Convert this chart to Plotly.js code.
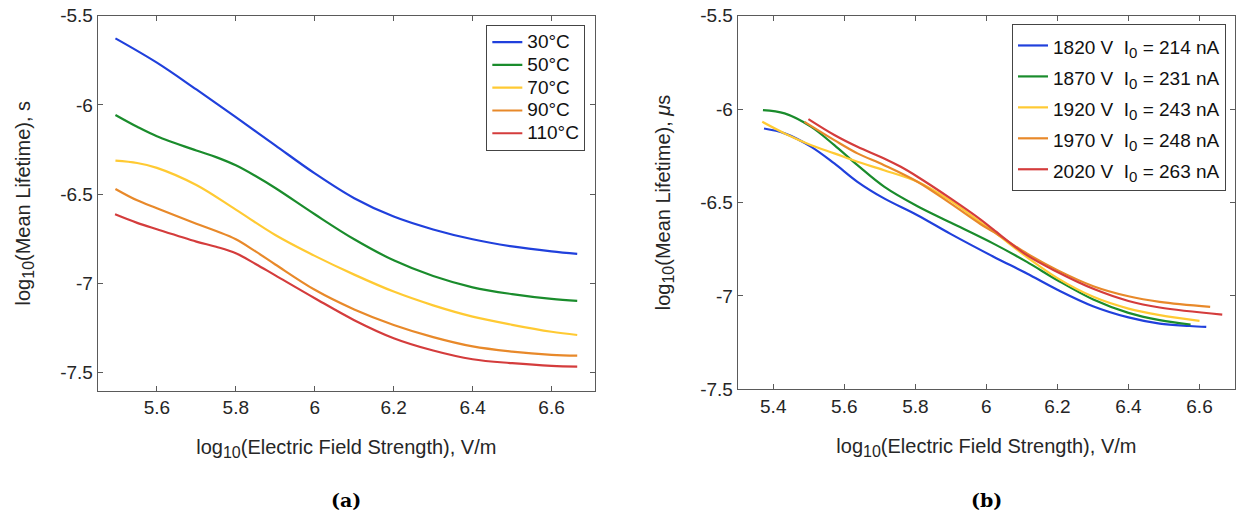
<!DOCTYPE html>
<html>
<head>
<meta charset="utf-8">
<script src="https://cdn.plot.ly/plotly-3.0.1.min.js"></script>
<style>html,body{margin:0;padding:0;background:#fff}#chart{width:1238px;height:517px}</style>
</head>
<body>
<div id="chart"></div>
<script>
// ---------- Panel (a): temperature series ----------
const tempNames = ['30°C', '50°C', '70°C', '90°C', '110°C'];
const aX30  = [5.495, 5.6, 5.7, 5.8, 5.9, 6.0, 6.1, 6.2, 6.3, 6.4, 6.5, 6.6, 6.665];
const aY30  = [-5.627, -5.763, -5.913, -6.068, -6.226, -6.383, -6.522, -6.625, -6.697, -6.752, -6.792, -6.820, -6.834];
const aX50  = [5.495, 5.55, 5.6, 5.7, 5.75, 5.8, 5.85, 5.9, 6.0, 6.1, 6.2, 6.3, 6.4, 6.5, 6.6, 6.665];
const aY50  = [-6.056, -6.122, -6.175, -6.255, -6.292, -6.338, -6.398, -6.465, -6.612, -6.752, -6.870, -6.958, -7.021, -7.059, -7.086, -7.097];
const aX70  = [5.495, 5.55, 5.6, 5.7, 5.8, 5.9, 6.0, 6.1, 6.2, 6.3, 6.4, 6.5, 6.6, 6.665];
const aY70  = [-6.312, -6.325, -6.352, -6.448, -6.586, -6.728, -6.845, -6.950, -7.045, -7.122, -7.185, -7.231, -7.270, -7.288];
const aX90  = [5.495, 5.55, 5.6, 5.7, 5.75, 5.8, 5.85, 5.9, 6.0, 6.1, 6.2, 6.3, 6.4, 6.5, 6.6, 6.665];
const aY90  = [-6.470, -6.534, -6.578, -6.665, -6.706, -6.752, -6.820, -6.893, -7.035, -7.145, -7.232, -7.300, -7.352, -7.381, -7.399, -7.404];
const aX110 = [5.494, 5.55, 5.6, 5.7, 5.75, 5.8, 5.85, 5.9, 6.0, 6.1, 6.2, 6.3, 6.4, 6.5, 6.6, 6.665];
const aY110 = [-6.612, -6.660, -6.696, -6.765, -6.794, -6.830, -6.890, -6.954, -7.082, -7.205, -7.306, -7.375, -7.424, -7.446, -7.461, -7.465];

// ---------- Panel (b): voltage series ----------
const SUB = (s) => '<sub><span style="font-size:15px">' + s + '</span></sub>';
const voltNames = ['1820 V  I' + SUB('0') + ' = 214 nA', '1870 V  I' + SUB('0') + ' = 231 nA', '1920 V  I' + SUB('0') + ' = 243 nA', '1970 V  I' + SUB('0') + ' = 248 nA', '2020 V  I' + SUB('0') + ' = 263 nA'];
const bX1820 = [5.374, 5.432, 5.507, 5.572, 5.637, 5.712, 5.806, 5.899, 6.020, 6.114, 6.2, 6.3, 6.4, 6.488, 6.572, 6.619];
const bY1820 = [-6.104, -6.130, -6.202, -6.291, -6.389, -6.478, -6.568, -6.668, -6.790, -6.880, -6.967, -7.055, -7.115, -7.148, -7.161, -7.166];
const bX1870 = [5.371, 5.432, 5.507, 5.572, 5.637, 5.712, 5.806, 5.899, 6.020, 6.114, 6.2, 6.301, 6.4, 6.488, 6.575];
const bY1870 = [-6.005, -6.023, -6.095, -6.193, -6.300, -6.415, -6.520, -6.607, -6.720, -6.818, -6.916, -7.019, -7.091, -7.130, -7.153];
const bX1920 = [5.369, 5.432, 5.507, 5.572, 5.637, 5.712, 5.806, 5.899, 5.983, 6.020, 6.114, 6.2, 6.301, 6.4, 6.488, 6.6];
const bY1920 = [-6.068, -6.130, -6.193, -6.237, -6.282, -6.327, -6.389, -6.490, -6.605, -6.655, -6.792, -6.905, -7.005, -7.068, -7.103, -7.134];
const bX1970 = [5.488, 5.572, 5.637, 5.712, 5.806, 5.899, 5.983, 6.020, 6.114, 6.2, 6.301, 6.4, 6.488, 6.630];
const bY1970 = [-6.068, -6.166, -6.237, -6.300, -6.389, -6.505, -6.615, -6.657, -6.773, -6.862, -6.948, -7.002, -7.032, -7.059];
const bX2020 = [5.499, 5.572, 5.637, 5.712, 5.759, 5.806, 5.899, 5.983, 6.020, 6.114, 6.2, 6.301, 6.4, 6.488, 6.664];
const bY2020 = [-6.054, -6.139, -6.202, -6.264, -6.309, -6.362, -6.478, -6.590, -6.645, -6.782, -6.872, -6.962, -7.027, -7.062, -7.100];

// ---------- Tick labels ----------
const xTickVals = [5.4, 5.6, 5.8, 6.0, 6.2, 6.4, 6.6];
const xTickText = ['5.4', '5.6', '5.8', '6', '6.2', '6.4', '6.6'];
const yTickVals = [-7.5, -7, -6.5, -6, -5.5];
const yTickText = ['-7.5', '-7', '-6.5', '-6', '-5.5'];
const panelLabels = ['(a)', '(b)'];

const colors = ['#2040dc', '#1a8c2c', '#ffca33', '#e8892a', '#d43c3c'];
const FONT = 'Liberation Sans, Arial, Helvetica, sans-serif';
const TSUB = '<sub><span style="font-size:16px">10</span></sub>';
const sized = (s) => '<span style="font-size:19px">' + s + '</span>';

const aXs = [aX30, aX50, aX70, aX90, aX110];
const aYs = [aY30, aY50, aY70, aY90, aY110];
const bXs = [bX1820, bX1870, bX1920, bX1970, bX2020];
const bYs = [bY1820, bY1870, bY1920, bY1970, bY2020];

const traces = [];
tempNames.forEach((n, i) => traces.push({
  x: aXs[i], y: aYs[i], name: sized(n), type: 'scatter', mode: 'lines',
  line: {color: colors[i], width: 2.2, shape: 'spline', smoothing: 1},
  xaxis: 'x', yaxis: 'y', legend: 'legend'
}));
voltNames.forEach((n, i) => traces.push({
  x: bXs[i], y: bYs[i], name: sized(n), type: 'scatter', mode: 'lines',
  line: {color: colors[i], width: 2.2, shape: 'spline', smoothing: 1},
  xaxis: 'x2', yaxis: 'y2', legend: 'legend2'
}));

const axBase = {
  showline: true, mirror: 'ticks', linecolor: '#5a5a5a', linewidth: 1,
  ticks: 'inside', ticklen: 5, tickcolor: '#5a5a5a', tickwidth: 1,
  showgrid: false, zeroline: false,
  tickfont: {family: FONT, size: 19, color: '#262626'},
  automargin: false
};
const titleFont = {family: FONT, size: 20, color: '#262626'};
const xTitle = {text: 'log' + TSUB + '(Electric Field Strength), V/m', font: titleFont, standoff: 22};

const layout = {
  width: 1238, height: 517,
  margin: {l: 0, r: 0, t: 0, b: 0},
  paper_bgcolor: '#fff', plot_bgcolor: '#fff',
  font: {family: FONT, size: 18, color: '#262626'},
  xaxis: Object.assign({}, axBase, {domain: [0.0789, 0.4806], range: [5.45, 6.71], tickvals: xTickVals, ticktext: xTickText, anchor: 'y', title: xTitle}),
  yaxis: Object.assign({}, axBase, {domain: [0.2443, 0.9696], range: [-7.6, -5.5], tickvals: yTickVals, ticktext: yTickText, anchor: 'x',
    title: {text: 'log' + TSUB + '(Mean Lifetime), s', font: titleFont, standoff: 24}}),
  xaxis2: Object.assign({}, axBase, {domain: [0.5959, 0.9976], range: [5.3, 6.7], tickvals: xTickVals, ticktext: xTickText, anchor: 'y2', title: xTitle}),
  yaxis2: Object.assign({}, axBase, {domain: [0.2470, 0.9696], range: [-7.5, -5.5], tickvals: yTickVals, ticktext: yTickText, anchor: 'x2',
    title: {text: 'log' + TSUB + '(Mean Lifetime), <i>μ</i>s', font: titleFont, standoff: 24}}),
  legend: {x: 0.4728, xanchor: 'right', y: 0.952, yanchor: 'top', bgcolor: '#fff', bordercolor: '#444', borderwidth: 1,
    font: {family: FONT, size: 15.2, color: '#111'}, tracegroupgap: 0, itemwidth: 30},
  legend2: {x: 0.9903, xanchor: 'right', y: 0.9536, yanchor: 'top', bgcolor: '#fff', bordercolor: '#444', borderwidth: 1,
    font: {family: FONT, size: 21.5, color: '#111'}, tracegroupgap: 0, itemwidth: 30},
  showlegend: true,
  annotations: [
    {text: '<b>' + panelLabels[0] + '</b>', xref: 'paper', yref: 'paper', x: 0.2795, y: 0.033, xanchor: 'center', yanchor: 'middle', showarrow: false,
     font: {family: 'DejaVu Serif, serif', size: 19, color: '#000'}},
    {text: '<b>' + panelLabels[1] + '</b>', xref: 'paper', yref: 'paper', x: 0.7967, y: 0.033, xanchor: 'center', yanchor: 'middle', showarrow: false,
     font: {family: 'DejaVu Serif, serif', size: 19, color: '#000'}}
  ]
};

Plotly.newPlot('chart', traces, layout, {displayModeBar: false});
</script>
</body>
</html>
